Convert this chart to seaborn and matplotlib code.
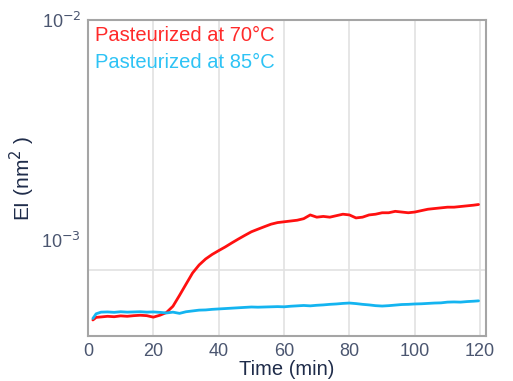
import matplotlib
matplotlib.use("Agg")
import matplotlib.pyplot as plt
import pandas as pd
import seaborn as sns

# leitura aproximada das curvas (min, nm^2)
tempo = [1.5, 2.5, 4, 6, 8, 10, 12, 14, 16, 18, 20, 22, 24, 26, 28, 30, 32, 34, 36, 38,
         40, 42, 44, 46, 48, 50, 52, 54, 56, 58, 60, 62, 64, 66, 68, 70, 72, 74, 76, 78,
         80, 82, 84, 86, 88, 90, 92, 94, 96, 98, 100, 102, 104, 106, 108, 110, 112, 114,
         116, 118, 119.5]

ei_70 = [4.33e-4, 4.45e-4, 4.47e-4, 4.50e-4, 4.48e-4, 4.52e-4, 4.50e-4, 4.53e-4, 4.55e-4,
         4.53e-4, 4.46e-4, 4.55e-4, 4.68e-4, 5.00e-4, 5.60e-4, 6.30e-4, 7.08e-4, 7.70e-4,
         8.20e-4, 8.60e-4, 8.95e-4, 9.30e-4, 9.70e-4, 1.01e-3, 1.05e-3, 1.09e-3, 1.12e-3,
         1.15e-3, 1.18e-3, 1.20e-3, 1.21e-3, 1.22e-3, 1.23e-3, 1.25e-3, 1.30e-3, 1.27e-3,
         1.28e-3, 1.27e-3, 1.29e-3, 1.31e-3, 1.30e-3, 1.26e-3, 1.27e-3, 1.30e-3, 1.31e-3,
         1.33e-3, 1.33e-3, 1.35e-3, 1.34e-3, 1.33e-3, 1.34e-3, 1.36e-3, 1.38e-3, 1.39e-3,
         1.40e-3, 1.41e-3, 1.41e-3, 1.42e-3, 1.43e-3, 1.44e-3, 1.45e-3]

ei_85 = [4.40e-4, 4.62e-4, 4.70e-4, 4.71e-4, 4.69e-4, 4.72e-4, 4.70e-4, 4.71e-4, 4.72e-4,
         4.70e-4, 4.71e-4, 4.69e-4, 4.66e-4, 4.70e-4, 4.64e-4, 4.72e-4, 4.76e-4, 4.80e-4,
         4.81e-4, 4.84e-4, 4.86e-4, 4.88e-4, 4.90e-4, 4.92e-4, 4.94e-4, 4.96e-4, 4.95e-4,
         4.96e-4, 4.97e-4, 4.98e-4, 4.97e-4, 5.00e-4, 5.02e-4, 5.04e-4, 5.02e-4, 5.05e-4,
         5.07e-4, 5.10e-4, 5.12e-4, 5.15e-4, 5.17e-4, 5.14e-4, 5.10e-4, 5.07e-4, 5.03e-4,
         5.01e-4, 5.03e-4, 5.06e-4, 5.09e-4, 5.10e-4, 5.12e-4, 5.13e-4, 5.15e-4, 5.17e-4,
         5.18e-4, 5.22e-4, 5.23e-4, 5.22e-4, 5.25e-4, 5.27e-4, 5.29e-4]

series = ["Pasteurized at 70°C", "Pasteurized at 85°C"]
cores_linha = ["#ff1010", "#14b4f0"]
cores_texto = ["#ff2a2a", "#2ec3f5"]
x_ticks = [0, 20, 40, 60, 80, 100, 120]

sns.set_theme(style="white")
plt.rcParams["font.family"] = ["Liberation Sans", "DejaVu Sans"]

df = pd.concat([
    pd.DataFrame({"Tempo": tempo, "EI": ei_70, "Amostra": series[0]}),
    pd.DataFrame({"Tempo": tempo, "EI": ei_85, "Amostra": series[1]}),
])

fig = plt.figure(figsize=(5.13, 3.81), dpi=100)
ax = fig.add_axes([0.1715, 0.118, 0.776, 0.8295])

sns.lineplot(data=df, x="Tempo", y="EI", hue="Amostra", palette=cores_linha,
             linewidth=2.0, legend=False, ax=ax)

ax.set_yscale("log")
ax.set_xlim(0, 121.8)
ax.set_ylim(3.66e-4, 1e-2)

for xv in x_ticks[1:]:
    ax.axvline(xv, color="#e2e2e2", linewidth=1.2, zorder=0)
ax.axhline(7.3e-4, color="#e2e2e2", linewidth=1.2, zorder=0)

ax.set_xticks(x_ticks)
ax.set_xticklabels([str(v) for v in x_ticks])
ax.set_yticks([1e-3, 1e-2])
ax.set_yticklabels([r"10$^{-3}$", r"10$^{-2}$"])
ax.minorticks_off()
ax.tick_params(axis="both", length=0, labelsize=13, colors="#4b5670", pad=5)

for s in ax.spines.values():
    s.set_color("#a5a5a5")
    s.set_linewidth(1.5)

ax.set_xlabel("Time (min)", fontsize=14.5, color="#1f2c4a", labelpad=0)
ax.set_ylabel("EI (nm$^2$ )", fontsize=15, color="#1f2c4a", labelpad=3)

for i, (nome, cor) in enumerate(zip(series, cores_texto)):
    ax.text(0.017, 0.95 - i * 0.085, nome, transform=ax.transAxes, color=cor,
            fontsize=14.5, ha="left", va="center")

fig.savefig("out.png", dpi=100)
